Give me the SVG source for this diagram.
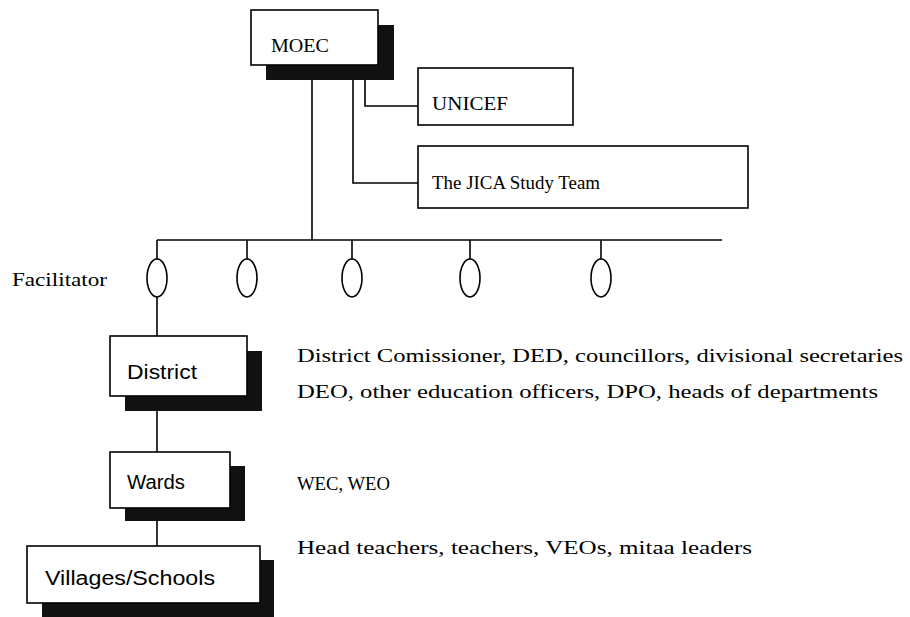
<svg xmlns="http://www.w3.org/2000/svg" width="910" height="617" viewBox="0 0 910 617">
<style>
.box{fill:#fff;stroke:#000;stroke-width:1.6}
.sh{fill:#111}
.ln{fill:none;stroke:#000;stroke-width:1.6}
.ov{fill:#fff;stroke:#000;stroke-width:1.6}
.serif{font-family:"Liberation Serif","Times New Roman",serif;fill:#000}
.sans{font-family:"Liberation Sans",Arial,sans-serif;fill:#000}
</style>
<rect width="910" height="617" fill="#fff"/>
<g id="connectors">
<path class="ln" d="M312 80 V240"/>
<path class="ln" d="M353 80 V183 H418"/>
<path class="ln" d="M365 80 V106 H418"/>
<path class="ln" d="M157 240 H722"/>
<path class="ln" d="M157 240 V336"/>
<path class="ln" d="M247 240 V259"/>
<path class="ln" d="M352 240 V259"/>
<path class="ln" d="M470 240 V259"/>
<path class="ln" d="M601 240 V259"/>
<path class="ln" d="M157 410 V452"/>
<path class="ln" d="M157 520 V546"/>
</g>
<g id="facilitators">
<ellipse class="ov" cx="157" cy="278" rx="10" ry="19"/>
<ellipse class="ov" cx="247" cy="278" rx="10" ry="19"/>
<ellipse class="ov" cx="352" cy="278" rx="10" ry="19"/>
<ellipse class="ov" cx="470" cy="278" rx="10" ry="19"/>
<ellipse class="ov" cx="601" cy="278" rx="10" ry="19"/>
<text class="serif" x="12" y="286" font-size="19" textLength="95" lengthAdjust="spacingAndGlyphs">Facilitator</text>
</g>
<g id="moec">
<rect class="sh" x="266" y="25" width="128" height="55"/>
<rect class="box" x="251" y="10" width="127" height="55"/>
<text class="serif" x="271" y="52" font-size="19" textLength="58" lengthAdjust="spacingAndGlyphs">MOEC</text>
</g>
<g id="unicef">
<rect class="box" x="418" y="68" width="155" height="57"/>
<text class="serif" x="432" y="110" font-size="19" textLength="76" lengthAdjust="spacingAndGlyphs">UNICEF</text>
</g>
<g id="jica">
<rect class="box" x="418" y="146" width="330" height="62"/>
<text class="serif" x="432" y="189" font-size="19" textLength="168" lengthAdjust="spacingAndGlyphs">The JICA Study Team</text>
</g>
<g id="district">
<rect class="sh" x="125" y="351" width="137" height="60"/>
<rect class="box" x="110" y="336" width="137" height="60"/>
<text class="sans" x="127" y="379" font-size="20" textLength="70" lengthAdjust="spacingAndGlyphs">District</text>
</g>
<g id="wards">
<rect class="sh" x="125" y="466" width="120" height="55"/>
<rect class="box" x="110" y="452" width="120" height="56"/>
<text class="sans" x="127" y="489" font-size="20" textLength="58" lengthAdjust="spacingAndGlyphs">Wards</text>
</g>
<g id="villages">
<rect class="sh" x="42" y="560" width="232" height="57"/>
<rect class="box" x="27" y="546" width="233" height="57"/>
<text class="sans" x="45" y="585" font-size="20" textLength="170" lengthAdjust="spacingAndGlyphs">Villages/Schools</text>
</g>
<g id="descriptions">
<text class="serif" x="297" y="362" font-size="19" textLength="606" lengthAdjust="spacingAndGlyphs">District Comissioner, DED, councillors, divisional secretaries</text>
<text class="serif" x="297" y="398" font-size="19" textLength="581" lengthAdjust="spacingAndGlyphs">DEO, other education officers, DPO, heads of departments</text>
<text class="serif" x="297" y="490" font-size="19" textLength="93" lengthAdjust="spacingAndGlyphs">WEC, WEO</text>
<text class="serif" x="297" y="554" font-size="19" textLength="455" lengthAdjust="spacingAndGlyphs">Head teachers, teachers, VEOs, mitaa leaders</text>
</g>
</svg>
